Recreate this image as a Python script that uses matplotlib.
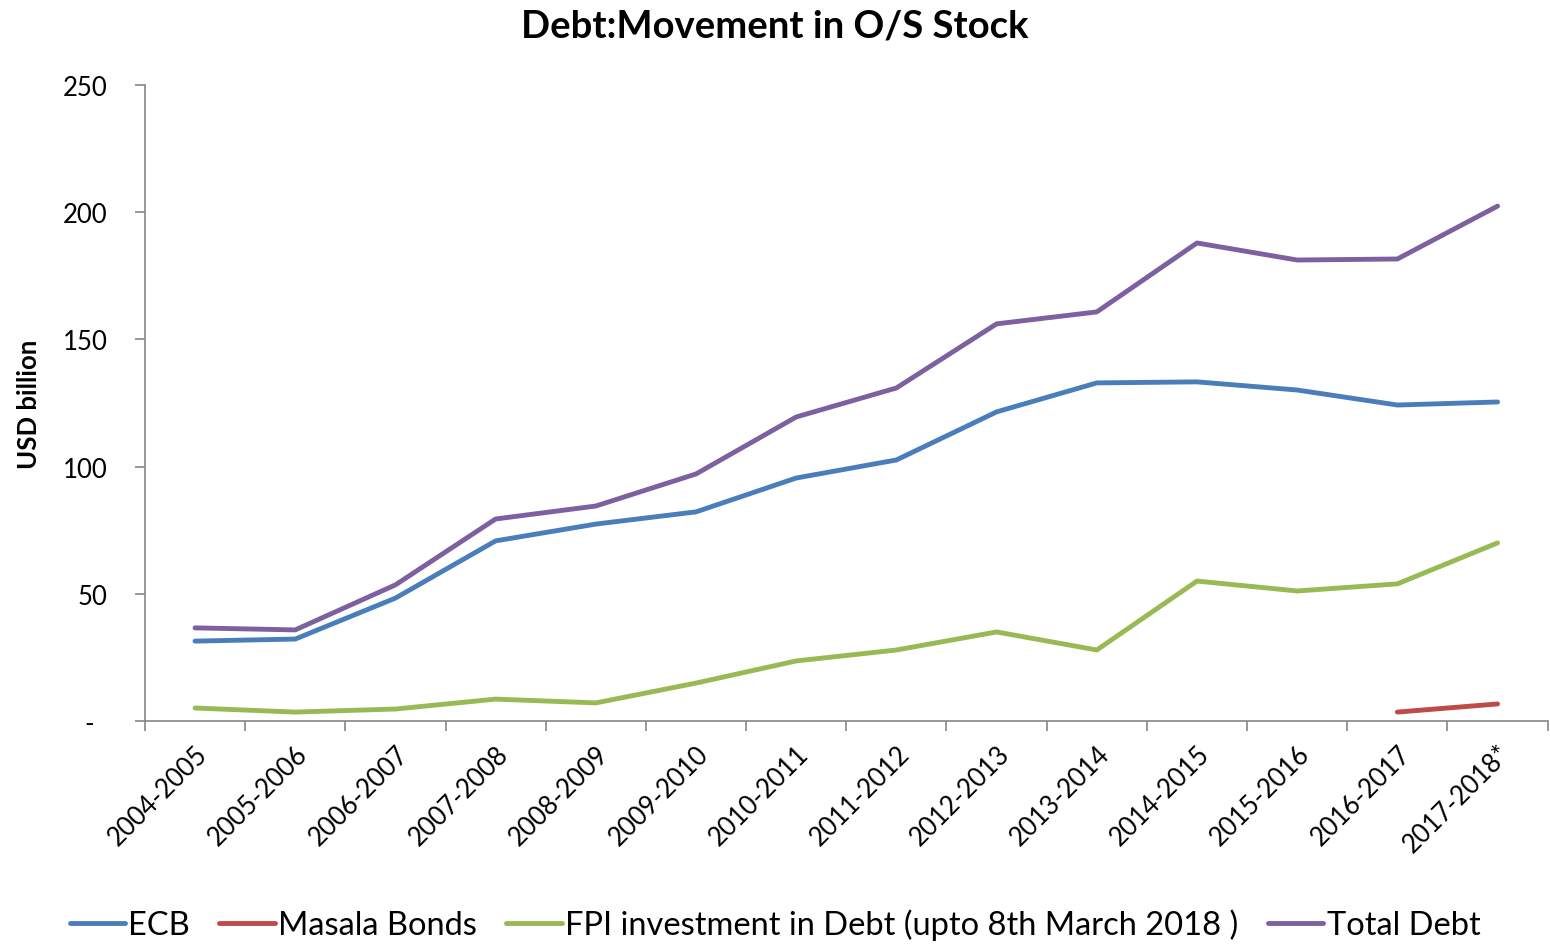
import matplotlib
matplotlib.use("Agg")
import matplotlib.pyplot as plt
import numpy as np

years = ["2004-2005", "2005-2006", "2006-2007", "2007-2008", "2008-2009",
         "2009-2010", "2010-2011", "2011-2012", "2012-2013", "2013-2014",
         "2014-2015", "2015-2016", "2016-2017", "2017-2018*"]
ecb = [31.4, 32.2, 48.3, 70.8, 77.4, 82.2, 95.5, 102.6, 121.5, 132.9,
       133.3, 130.1, 124.2, 125.4]
masala = [None] * 12 + [3.5, 6.7]
fpi = [5.1, 3.5, 4.7, 8.6, 7.1, 14.9, 23.6, 27.9, 35.0, 27.9,
       55.0, 51.1, 53.9, 70.0]
total = [36.6, 35.8, 53.5, 79.4, 84.5, 97.1, 119.5, 130.9, 156.1, 160.8,
         187.9, 181.2, 181.6, 202.4]
yticks = [0, 50, 100, 150, 200, 250]
ytick_labels = ["-  ", "50", "100", "150", "200", "250"]

plt.rcParams["font.family"] = ["Lato", "DejaVu Sans"]

fig = plt.figure(figsize=(15.5, 9.45), dpi=100)
ax = fig.add_axes([0.0935, 0.236, 0.905, 0.673])

x = np.arange(len(years))
series = [
    ("ECB", ecb, "#4a7ebb"),
    ("Masala Bonds", masala, "#be4b48"),
    ("FPI investment in Debt (upto 8th March 2018 )", fpi, "#98b954"),
    ("Total Debt", total, "#7d60a0"),
]
for name, vals, color in series:
    v = np.array([np.nan if a is None else a for a in vals], dtype=float)
    ax.plot(x, v, color=color, lw=3.5, solid_capstyle="round",
            solid_joinstyle="round", label=name)

ax.set_xlim(-0.5, len(years) - 0.5)
ax.set_ylim(0, 250)
ax.set_yticks(yticks)
ax.set_yticklabels(ytick_labels, fontsize=18.5)
ax.set_xticks(x)
ax.set_xticklabels(years, rotation=45, ha="right", rotation_mode="anchor",
                   fontsize=18.5)
ax.set_xticks(np.arange(-0.5, len(years)), minor=True)
ax.tick_params(axis="x", which="major", length=0, pad=14)
ax.tick_params(axis="x", which="minor", length=7, color="#868686", width=1.2)
ax.tick_params(axis="y", length=7, color="#868686", width=1.2, pad=20)

for side in ("top", "right"):
    ax.spines[side].set_visible(False)
for side in ("left", "bottom"):
    ax.spines[side].set_color("#868686")
    ax.spines[side].set_linewidth(1.2)

ax.set_ylabel("USD billion", fontsize=18.5, fontweight="bold")
ax.yaxis.set_label_coords(-0.074, 0.5)

fig.suptitle("Debt:Movement in O/S Stock", fontsize=27.5, fontweight="bold",
             x=0.5, y=0.99)

fig.legend(loc="lower center", ncol=4, frameon=False, fontsize=23.5,
           bbox_to_anchor=(0.5, -0.027), handlelength=1.7, handletextpad=0.1,
           columnspacing=0.9)

fig.savefig("out.png", dpi=100)
